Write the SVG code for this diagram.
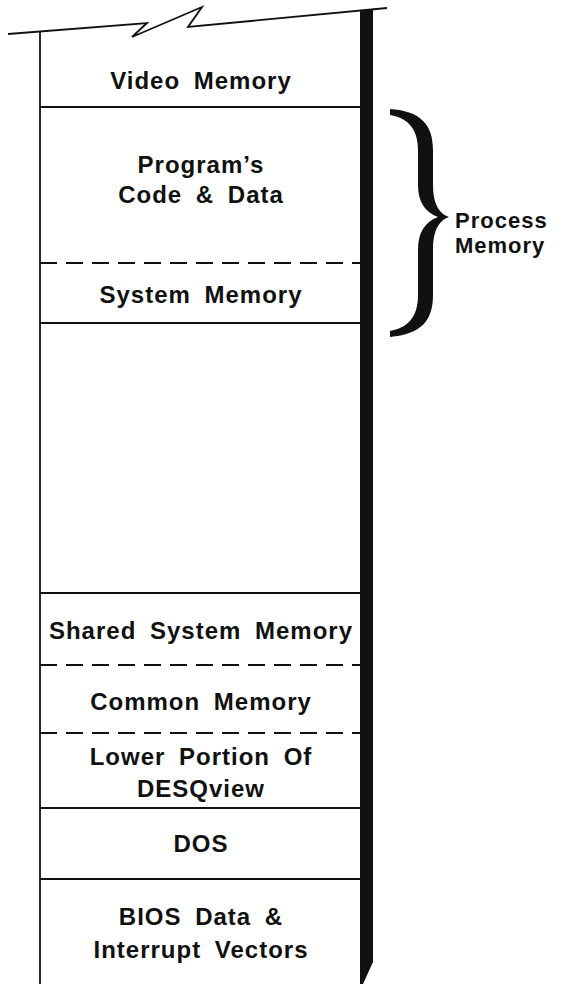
<svg xmlns="http://www.w3.org/2000/svg" width="563" height="984" viewBox="0 0 563 984">
<style>
.t{font-family:"Liberation Sans",Arial,sans-serif;font-weight:bold;font-size:24px;letter-spacing:1px;word-spacing:6px;fill:#111;text-anchor:middle}
.s{stroke:#111;stroke-width:1.8;fill:none}
.d{stroke:#111;stroke-width:1.8;fill:none;stroke-dasharray:17,9}
</style>
<rect width="563" height="984" fill="#fff"/>
<g id="frame">
<path class="s" d="M8,34 L147,23 L132,37 L202,7 L188,27 L387,8"/>
<line class="s" x1="40" y1="32" x2="40" y2="984"/>
<path d="M360,10 L373,9 L373,962 L363,984 L360,984 Z" fill="#111"/>
</g>
<g id="connectors">
<line class="s" x1="40" y1="107" x2="360" y2="107"/>
<line class="d" x1="40" y1="263" x2="360" y2="263"/>
<line class="s" x1="40" y1="323" x2="360" y2="323"/>
<line class="s" x1="40" y1="593" x2="360" y2="593"/>
<line class="d" x1="40" y1="665" x2="360" y2="665"/>
<line class="d" x1="40" y1="733" x2="360" y2="733"/>
<line class="s" x1="40" y1="808" x2="360" y2="808"/>
<line class="s" x1="40" y1="879" x2="360" y2="879"/>
</g>
<g id="video"><text class="t" x="201" y="89">Video Memory</text></g>
<g id="program"><text class="t" x="201" y="173">Program’s</text><text class="t" x="201" y="203">Code &amp; Data</text></g>
<g id="system"><text class="t" x="201" y="303">System Memory</text></g>
<g id="shared"><text class="t" x="201" y="639">Shared System Memory</text></g>
<g id="common"><text class="t" x="201" y="710">Common Memory</text></g>
<g id="lower"><text class="t" x="201" y="765">Lower Portion Of</text><text class="t" x="201" y="797">DESQview</text></g>
<g id="dos"><text class="t" x="201" y="852">DOS</text></g>
<g id="bios"><text class="t" x="201" y="925">BIOS Data &amp;</text><text class="t" x="201" y="958">Interrupt Vectors</text></g>
<g id="brace">
<path fill="#111" d="M390,109 C421,111 433,125 433,150 L433,185 C433,205 440,214 449,217 C440,220 433,229 433,250 L433,295 C433,321 421,334 390,337 L390,331 C407,328 418,318 418,295 L418,250 C418,232 425,222 438,217 C425,212 418,202 418,185 L418,150 C418,129 408,118 390,115 Z"/>
<text class="t" x="455" y="228" style="text-anchor:start;letter-spacing:1px;font-size:22px">Process</text>
<text class="t" x="455" y="253" style="text-anchor:start;letter-spacing:1px;font-size:22px">Memory</text>
</g>
</svg>
